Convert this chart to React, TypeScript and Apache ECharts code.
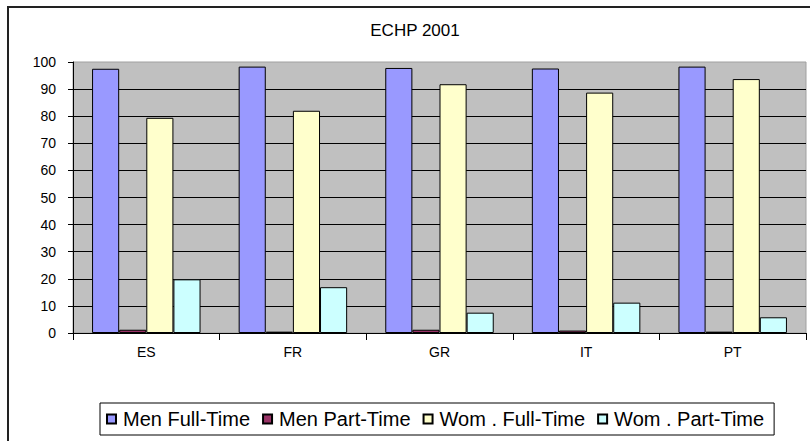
import React, { useEffect, useRef } from "react";
import * as echarts from "echarts";

const categories = ["ES", "FR", "GR", "IT", "PT"];
const seriesNames = ["Men Full-Time", "Men Part-Time", "Wom . Full-Time", "Wom . Part-Time"];
const menFullTime = [97.5, 98.3, 97.8, 97.6, 98.3];
const menPartTime = [1.2, 0.5, 1.2, 0.9, 0.5];
const womFullTime = [79.4, 82.0, 91.8, 88.7, 93.7];
const womPartTime = [19.8, 16.9, 7.5, 11.2, 5.8];
const colors = ["#9999ff", "#993366", "#ffffcc", "#ccffff"];
const yTicks = { min: 0, max: 100, interval: 10 };
const title = "ECHP 2001";

const FONT = "'Liberation Sans', Arial, sans-serif";

export default function App() {
  const ref = useRef<HTMLDivElement>(null);
  useEffect(() => {
    if (!ref.current) return;
    const chart = echarts.init(ref.current, null, { renderer: "svg" });
    const data = [menFullTime, menPartTime, womFullTime, womPartTime];
    chart.setOption({
      animation: false,
      backgroundColor: "#ffffff",
      textStyle: { fontFamily: FONT },
      title: {
        text: title,
        left: 415,
        textAlign: "center",
        top: 22,
        padding: 0,
        textStyle: { fontSize: 17, fontWeight: "normal", color: "#000", fontFamily: FONT },
      },
      graphic: [
        {
          type: "rect",
          shape: { x: 8, y: 7, width: 820, height: 450 },
          style: { fill: "none", stroke: "#222", lineWidth: 2 },
          silent: true,
        },
      ],
      legend: {
        data: seriesNames,
        left: 100,
        top: 403,
        itemWidth: 9,
        itemHeight: 9,
        itemGap: 12,
        icon: "rect",
        borderColor: "#000",
        borderWidth: 1,
        padding: [6, 10, 6, 6],
        textStyle: { fontSize: 20, color: "#000", fontFamily: FONT, padding: [0, 0, 0, 2] },
      },
      grid: {
        left: 73,
        right: 4,
        top: 62,
        bottom: 108,
        show: true,
        backgroundColor: "#c0c0c0",
        borderColor: "#a0a0a0",
        borderWidth: 1,
      },
      xAxis: {
        type: "category",
        data: categories,
        boundaryGap: true,
        axisLine: { lineStyle: { color: "#000", width: 1 } },
        axisTick: { show: true, length: 7, lineStyle: { color: "#000" } },
        axisLabel: { color: "#000", fontSize: 14, margin: 12, fontFamily: FONT },
      },
      yAxis: {
        type: "value",
        min: yTicks.min,
        max: yTicks.max,
        interval: yTicks.interval,
        axisLine: { show: true, lineStyle: { color: "#000", width: 1 } },
        axisTick: { show: true, length: 5, lineStyle: { color: "#000" } },
        axisLabel: { color: "#000", fontSize: 14, margin: 17, fontFamily: FONT },
        splitLine: { show: true, showMaxLine: false, lineStyle: { color: "#000", width: 1 } },
      },
      series: seriesNames.map((name, i) => ({
        name,
        type: "bar",
        data: data[i],
        barGap: "0%",
        barCategoryGap: "26%",
        itemStyle: { color: colors[i], borderColor: "#000", borderWidth: 1 },
      })),
    });
    return () => chart.dispose();
  }, []);
  return (
    <div
      ref={ref}
      style={{ position: "fixed", left: 0, top: 0, width: 810, height: 441 }}
    />
  );
}
